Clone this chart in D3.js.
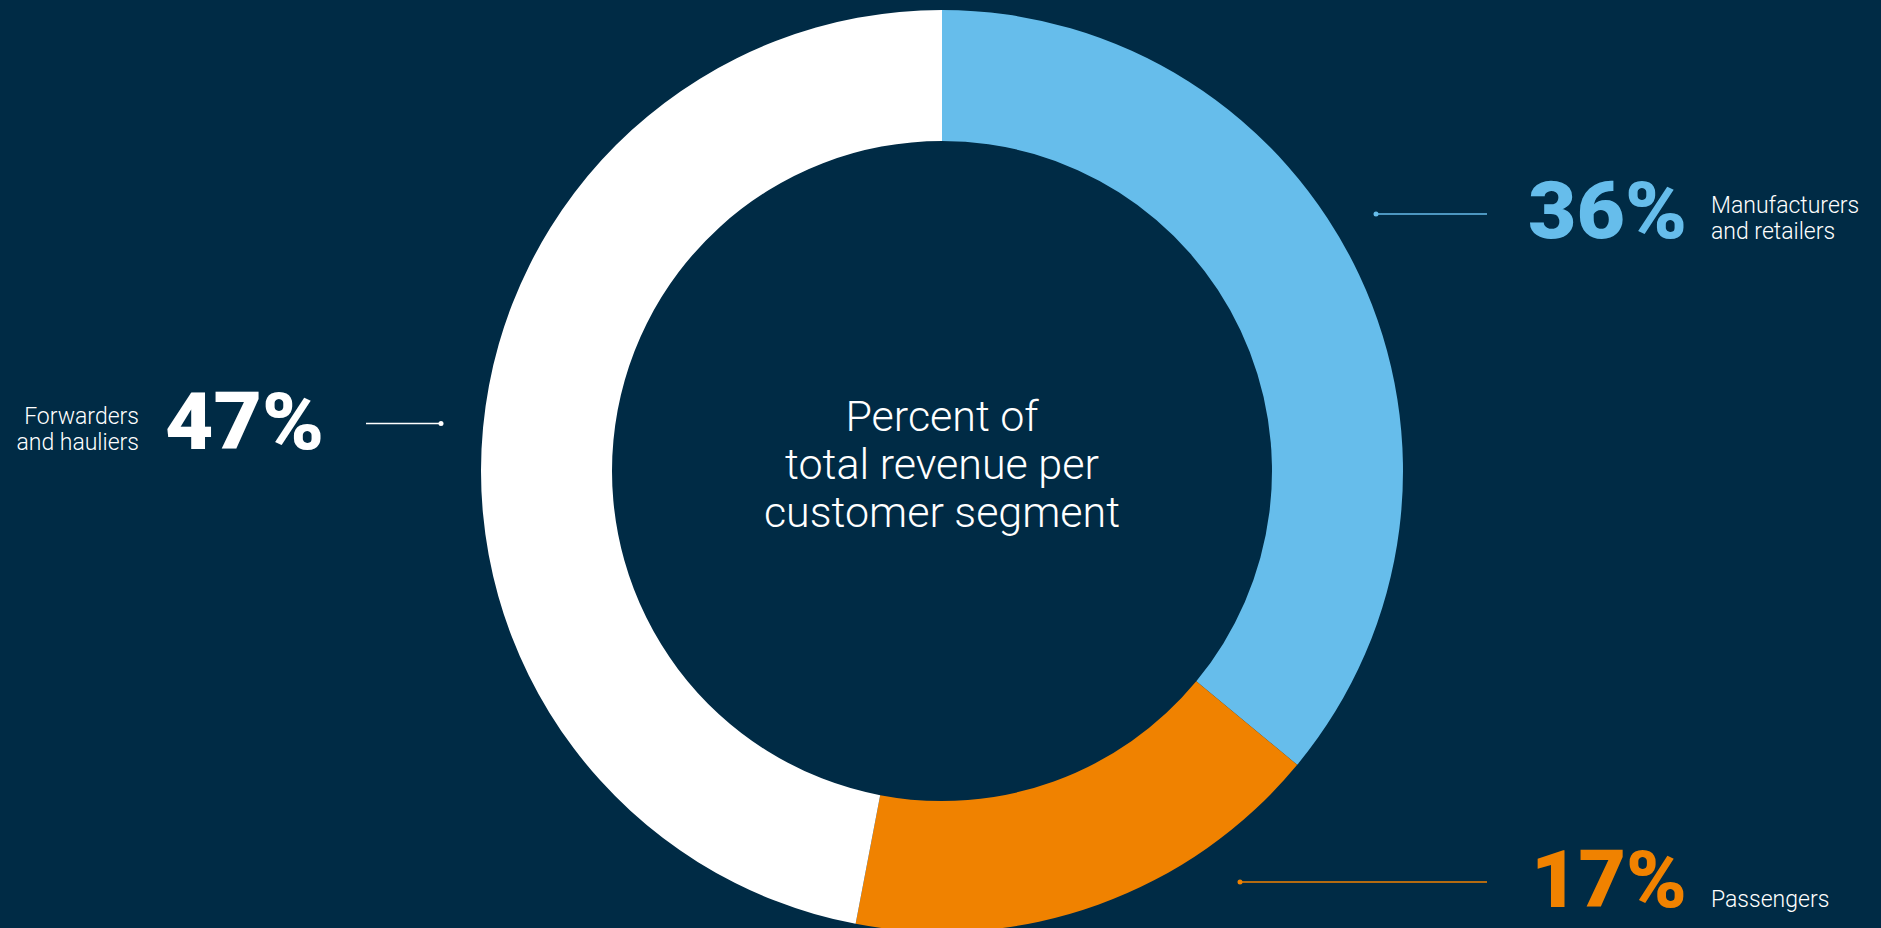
<!DOCTYPE html>
<html>
<head>
<meta charset="utf-8">
<script src="https://cdn.jsdelivr.net/npm/d3@7"></script>
<style>
  html, body { margin: 0; padding: 0; background: #002b45; overflow: hidden; }
  svg { display: block; }
</style>
</head>
<body>
<svg id="chart" width="1881" height="928"></svg>
<script>
// Revenue share per customer segment (percent)
const segments = ["Manufacturers and retailers", "Passengers", "Forwarders and hauliers"];
const shares = [36, 17, 47];
const labelLines = [["Manufacturers", "and retailers"], ["Passengers"], ["Forwarders", "and hauliers"]];
const centerTitle = ["Percent of", "total revenue per", "customer segment"];

// Presentation
const colors = ["#66bdeb", "#f08200", "#ffffff"];
const W = 1881, H = 928;
const cx = 942, cy = 471, outerR = 461, innerR = 330;

// Callout layout: leader line (dot end -> far end), big value and caption placement
const callouts = [
  { dot: [1376, 214], end: [1487, 214], value: [1687, 238], valueW: 159, anchor: "end",
    caption: [1711, 213], captionAnchor: "start" },
  { dot: [1240, 882], end: [1487, 882], value: [1687, 907], valueW: 156, anchor: "end",
    caption: [1711, 907], captionAnchor: "start" },
  { dot: [441, 423.5], end: [366, 423.5], value: [165, 449], valueW: 159, anchor: "start",
    caption: [139, 424], captionAnchor: "end" }
];

const svg = d3.select("#chart");
svg.append("rect").attr("width", W).attr("height", H).attr("fill", "#002b45");

const pie = d3.pie().sort(null).value(d => d).startAngle(0).endAngle(2 * Math.PI);
const arc = d3.arc().innerRadius(innerR).outerRadius(outerR);

const g = svg.append("g").attr("transform", `translate(${cx},${cy})`);
g.selectAll("path.slice")
  .data(pie(shares))
  .join("path")
  .attr("class", "slice")
  .attr("d", arc)
  .attr("fill", (d, i) => colors[i]);

// Centre title
const title = svg.append("text")
  .attr("x", cx)
  .attr("text-anchor", "middle")
  .attr("fill", "#ffffff")
  .style("font-family", "Roboto, 'Open Sans', sans-serif")
  .style("font-weight", 300)
  .style("font-size", "43px");
const titleBaselines = [431, 479, 527];
centerTitle.forEach((line, i) => {
  title.append("tspan").attr("x", cx).attr("y", titleBaselines[i]).text(line);
});

// Callouts
const fmt = d => d + "%";
callouts.forEach((c, i) => {
  const col = colors[i];
  svg.append("line")
    .attr("x1", c.dot[0]).attr("y1", c.dot[1])
    .attr("x2", c.end[0]).attr("y2", c.end[1])
    .attr("stroke", col).attr("stroke-width", 1.5);
  svg.append("circle")
    .attr("cx", c.dot[0]).attr("cy", c.dot[1]).attr("r", 2.5)
    .attr("fill", col);

  svg.append("text")
    .attr("x", c.value[0]).attr("y", c.value[1])
    .attr("text-anchor", c.anchor)
    .attr("fill", col)
    .attr("textLength", c.valueW)
    .attr("lengthAdjust", "spacingAndGlyphs")
    .style("font-family", "Roboto, 'DejaVu Sans', sans-serif")
    .style("font-weight", 900)
    .style("font-size", "79px")
    .text(fmt(shares[i]));

  const lines = labelLines[i];
  const cap = svg.append("text")
    .attr("text-anchor", c.captionAnchor)
    .attr("fill", "#ffffff")
    .style("font-family", "Roboto, 'Open Sans', sans-serif")
    .style("font-weight", 300)
    .style("font-size", "23px");
  lines.forEach((ln, k) => {
    cap.append("tspan")
      .attr("x", c.caption[0])
      .attr("y", c.caption[1] + k * 25.5)
      .text(ln);
  });
});
</script>
</body>
</html>
